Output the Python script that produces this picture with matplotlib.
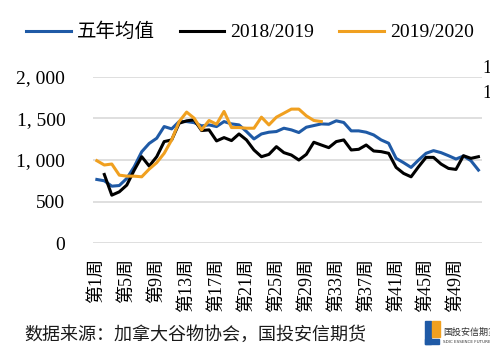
import numpy as np
import matplotlib.pyplot as plt
from matplotlib.patches import Rectangle

# weekly series
weeks = np.arange(1, 53)
avg5 = [766, 750, 685, 693, 778, 920, 1100, 1200, 1262, 1403,
        1375, 1463, 1463, 1450, 1411, 1423, 1403, 1463, 1435, 1423,
        1343, 1254, 1314, 1335, 1343, 1383, 1363, 1331, 1395, 1415,
        1435, 1431, 1472, 1452, 1351, 1351, 1335, 1302, 1242, 1202,
        1020, 968, 911, 1000, 1081, 1113, 1089, 1052, 1012, 1048,
        992, 879]
y1819 = [np.nan, 826, 577, 617, 698, 879, 1040, 927, 1040, 1222,
         1242, 1443, 1472, 1484, 1355, 1363, 1230, 1270, 1234, 1314,
         1242, 1121, 1040, 1068, 1161, 1089, 1060, 1000, 1068, 1214,
         1181, 1149, 1222, 1242, 1121, 1129, 1181, 1109, 1101, 1081,
         911, 839, 798, 919, 1032, 1032, 952, 899, 887, 1052,
         1020, 1040]
y1920 = [992, 940, 952, 818, 806, 806, 798, 891, 968, 1081,
         1242, 1463, 1577, 1504, 1363, 1476, 1431, 1585, 1391, 1391,
         1383, 1383, 1516, 1423, 1516, 1564, 1613, 1613, 1532, 1476,
         1463]
names = ['五年均值', '2018/2019', '2019/2020']
yticks = [0, 500, 1000, 1500, 2000]

cjk = ['Liberation Serif', 'Noto Sans CJK SC']

fig = plt.figure(figsize=(4.9, 3.58), dpi=100)
ax = fig.add_axes([0.19, 0.321, 0.794, 0.464])

ax.plot(weeks, avg5, color='#1f5aa6', lw=2.2, label=names[0])
ax.plot(weeks, y1819, color='#000000', lw=2.2, label=names[1])
ax.plot(weeks[:len(y1920)], y1920, color='#f0a020', lw=2.2, label=names[2])

ax.set_xlim(0.5, 52.5)
ax.set_ylim(0, 2000)
ax.set_yticks(yticks)
ax.set_yticklabels(['{:,}'.format(v).replace(',', ', ') for v in yticks],
                   family=cjk, fontsize=14)
ax.yaxis.grid(True, color='#d9d9d9', lw=1.2)
ax.set_axisbelow(True)
for s in ax.spines.values():
    s.set_visible(False)
ax.tick_params(length=0)
ax.tick_params(axis='y', pad=20)
ax.tick_params(axis='x', pad=11)

xt = weeks[::4]
ax.set_xticks(xt)
ax.set_xticklabels(['第%d周' % w for w in xt], rotation=90, family=cjk,
                   fontsize=13, va='top')

leg = ax.legend(loc='upper center', bbox_to_anchor=(0.51, 0.985),
                bbox_transform=fig.transFigure, ncol=3, frameon=False,
                prop={'family': cjk, 'size': 14}, handlelength=2.3,
                handletextpad=0.3, columnspacing=1.3)

fig.text(0.05, 0.05, '数据来源：加拿大谷物协会，国投安信期货',
         family='Noto Sans CJK SC', fontsize=13, color='#1a1a1a')

# clipped labels of the right axis
fig.text(0.985, 0.795, '1', family=cjk, fontsize=13)
fig.text(0.985, 0.725, '1', family=cjk, fontsize=13)

# small logo
fig.patches.append(Rectangle((0.868, 0.04), 0.012, 0.062, color='#1f5aa6',
                             transform=fig.transFigure))
fig.patches.append(Rectangle((0.868, 0.04), 0.027, 0.014, color='#1f5aa6',
                             transform=fig.transFigure))
fig.patches.append(Rectangle((0.882, 0.06), 0.016, 0.042, color='#f0a020',
                             transform=fig.transFigure))
fig.text(0.905, 0.065, '国投安信期货', family='Noto Sans CJK SC', fontsize=6.5,
         color='#333333')
fig.text(0.905, 0.042, 'SDIC ESSENCE FUTURES', fontsize=3, color='#333333')

fig.savefig('out.png', dpi=100)
